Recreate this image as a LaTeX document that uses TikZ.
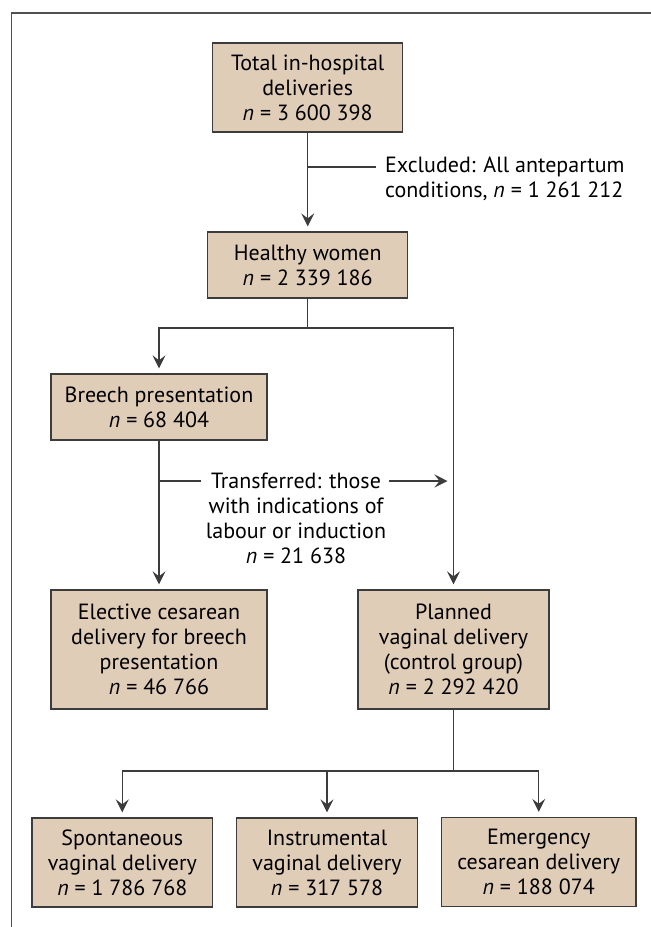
\documentclass[tikz,border=0pt]{standalone}
\usepackage{fontspec}
\setmainfont{PT Sans}
\usetikzlibrary{arrows.meta}
\definecolor{boxfill}{RGB}{224,205,184}
\definecolor{boxline}{RGB}{60,60,60}
\definecolor{frameline}{RGB}{80,80,80}
\begin{document}
\begin{tikzpicture}[x=1pt,y=-1pt,
  box/.style={draw=boxline, line width=1.3pt, fill=boxfill, align=center, inner sep=0pt, font=\fontsize{22}{25}\selectfont},
  conn/.style={draw=boxline, line width=1.2pt},
  arr/.style={conn, -{Stealth[length=13pt,width=13pt,inset=5pt]}, shorten >=5pt},
  lbl/.style={font=\fontsize{22}{25}\selectfont, inner sep=0pt},
  frame/.style={draw=frameline, line width=1.3pt}]
\useasboundingbox (0,0) rectangle (651,927);
\draw[frame] (651,13) -- (11.6,13) -- (11.6,927);

\node[box, minimum width=190pt, minimum height=89pt] (total) at (307.7,87.5)
  {Total in-hospital\\deliveries\\\textit{n} = 3 600 398};
\node[box, minimum width=200pt, minimum height=66pt] (healthy) at (307.7,265)
  {Healthy women\\\textit{n} = 2 339 186};
\node[box, minimum width=216pt, minimum height=66pt] (breech) at (159,407)
  {Breech presentation\\\textit{n} = 68 404};
\node[box, minimum width=216pt, minimum height=119pt] (elective) at (159,649.5)
  {Elective cesarean\\delivery for breech\\presentation\\\textit{n} = 46 766};
\node[box, minimum width=191pt, minimum height=119pt] (planned) at (453.5,649.5)
  {Planned\\vaginal delivery\\(control group)\\\textit{n} = 2 292 420};
\node[box, minimum width=180.6pt, minimum height=89pt] (spont) at (122.3,862.5)
  {Spontaneous\\vaginal delivery\\\textit{n} = 1 786 768};
\node[box, minimum width=180.6pt, minimum height=89pt] (instr) at (327,862.5)
  {Instrumental\\vaginal delivery\\\textit{n} = 317 578};
\node[box, minimum width=194.6pt, minimum height=89pt] (emerg) at (538.7,862)
  {Emergency\\cesarean delivery\\\textit{n} = 188 074};

% excluded
\node[lbl, align=left, anchor=west] (excl) at (385,178.5)
  {Excluded: All antepartum\\conditions, \textit{n} = 1 261 212};
\coordinate (excA) at (375.7,167);
\draw[arr] (total) -- (healthy);
\draw[conn] (total.south |- excA) -- (excA);

% split after healthy women
\coordinate (split1) at (307.7,328);
\draw[conn] (healthy.south) -- (healthy.south |- split1);
\draw[arr] (healthy.south |- split1) -| (breech.north);
\draw[arr] (healthy.south |- split1) -| (planned.north);

% breech to elective and transfer
\draw[arr] (breech) -- (elective);
\node[lbl, align=center] (trans) at (296,518)
  {Transferred: those\\with indications of\\labour or induction\\\textit{n} = 21 638};
\coordinate (trA) at (201.4,481);
\coordinate (trS) at (389,481);
\draw[conn] (breech.south |- trA) -- (trA);
\draw[arr, shorten >=6pt] (trS) -- (planned.north |- trS);

% split after planned
\coordinate (split2) at (453.5,771);
\draw[conn] (planned.south) -- (split2);
\draw[arr] (split2) -| (spont.north);
\draw[arr] (split2) -| (instr.north);
\draw[arr] (split2) -| (emerg.north);
\end{tikzpicture}
\end{document}
